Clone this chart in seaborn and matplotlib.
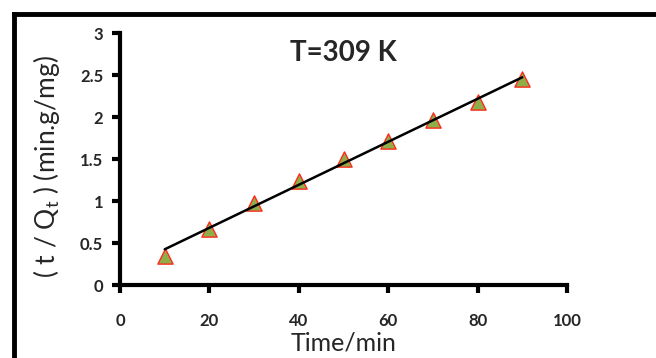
import numpy as np
import pandas as pd
import matplotlib
matplotlib.use("Agg")
import matplotlib.pyplot as plt
import seaborn as sns
from matplotlib.lines import Line2D

time_min = [10, 20, 30, 40, 50, 60, 70, 80, 90]
t_over_qt = [0.35, 0.67, 0.98, 1.24, 1.50, 1.71, 1.96, 2.18, 2.45]
x_ticks = [0, 20, 40, 60, 80, 100]
y_ticks = [0, 0.5, 1, 1.5, 2, 2.5, 3]
y_tick_labels = ["0", "0.5", "1", "1.5", "2", "2.5", "3"]
title_text = "T=309 K"

df = pd.DataFrame({"time": time_min, "tq": t_over_qt})

sns.set_theme(style="white")
plt.rcParams['font.family'] = ['Lato', 'DejaVu Sans']

fig = plt.figure(figsize=(6.56, 3.58), dpi=100)
ax = fig.add_axes([120/656, 1-285/358, (567-120)/656, (285-33)/358])

sns.regplot(data=df, x="time", y="tq", ax=ax, scatter=False, ci=None,
            line_kws=dict(color="black", lw=1.8, zorder=4))
sns.scatterplot(data=df, x="time", y="tq", ax=ax, marker="^", s=120,
                color="#8FAE4A", edgecolor="#FF2A1A", linewidth=1.0, zorder=3)

ax.set_xlim(0, 100)
ax.set_ylim(0, 3)
ax.set_xticks(x_ticks)
ax.set_xticklabels([str(v) for v in x_ticks])
ax.set_yticks(y_ticks)
ax.set_yticklabels(y_tick_labels)
for lab in ax.get_xticklabels() + ax.get_yticklabels():
    lab.set_fontweight("bold")
    lab.set_fontsize(12)
ax.tick_params(axis="both", direction="out", length=6, width=3, color="black",
               bottom=True, left=True)
ax.tick_params(axis="x", pad=14)
ax.tick_params(axis="y", pad=6)

for side in ["top", "right"]:
    ax.spines[side].set_visible(False)
for side in ["left", "bottom"]:
    ax.spines[side].set_linewidth(3)
    ax.spines[side].set_color("black")

ax.set_xlabel("Time/min", fontsize=18)
ax.xaxis.set_label_coords(0.5, -0.185)
ax.set_ylabel(r"( t / Q$_\mathregular{t}$ ) (min.g/mg)", fontsize=19)
ax.yaxis.set_label_coords(-0.13, 0.47)
ax.text(0.5, 0.92, title_text, transform=ax.transAxes, ha="center", va="center",
        fontsize=20, fontweight="bold")

fig.add_artist(Line2D([14/656, 14/656], [0, 1-14/358], color="black", lw=3.5,
                      transform=fig.transFigure, solid_capstyle="projecting"))
fig.add_artist(Line2D([14/656, 1], [1-14/358, 1-14/358], color="black", lw=3.5,
                      transform=fig.transFigure, solid_capstyle="projecting"))

fig.savefig("out.png", dpi=100, facecolor="white")
